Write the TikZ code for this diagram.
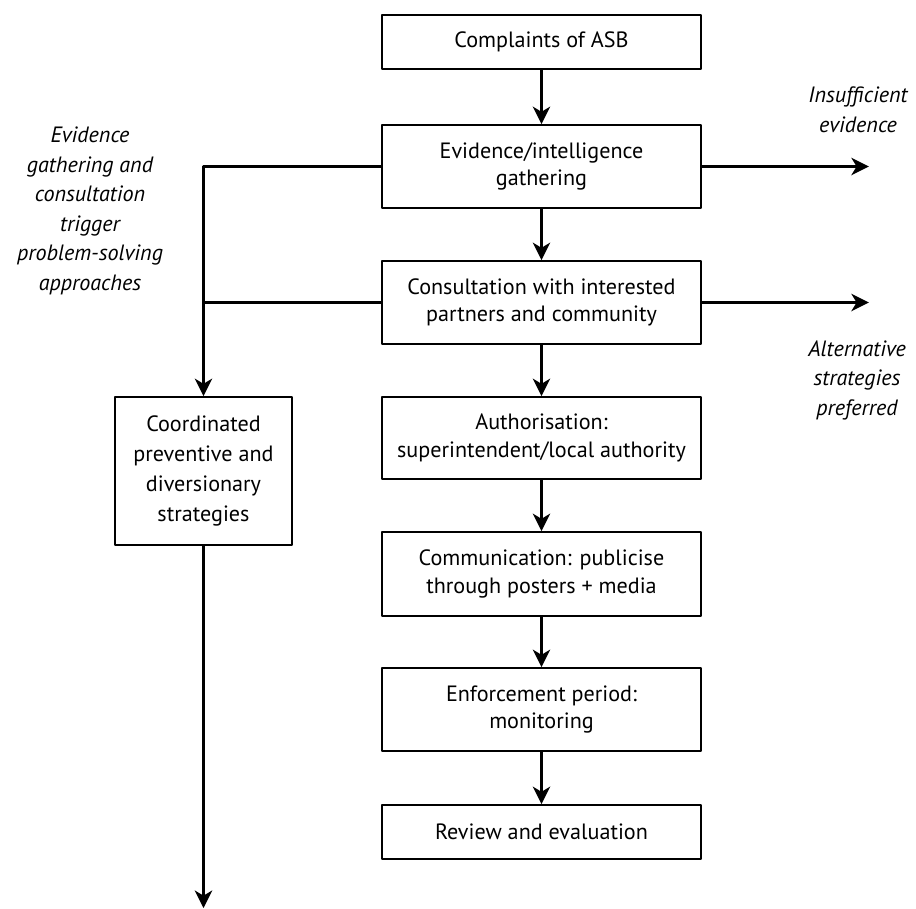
\documentclass[tikz,border=0pt]{standalone}
\usepackage{fontspec}
\setmainfont{PT Sans}
\usetikzlibrary{arrows.meta}
\begin{document}
\begin{tikzpicture}[x=0.2mm, y=-0.2mm, line join=round, line width=1.15pt,
  >={Stealth[length=10pt,width=10pt,inset=3pt]},
  box/.style={draw, line width=1pt, align=center, inner sep=2pt,
    minimum width=6.38cm, font=\fontsize{12.6}{15.8}\selectfont},
  note/.style={align=center, font=\fontsize{12.6}{16.8}\selectfont\itshape}]
\useasboundingbox (0,0) rectangle (916,909);
% main column
\node[box, minimum height=1.08cm] (cmp) at (541.5,42) {Complaints of ASB};
\node[box, minimum height=1.66cm] (evd) at (541.5,166.5) {Evidence/intelligence\\gathering};
\node[box, minimum height=1.66cm] (cns) at (541.5,302.5) {Consultation with interested\\partners and community};
\node[box, minimum height=1.64cm] (ath) at (541.5,438) {Authorisation:\\superintendent/local authority};
\node[box, minimum height=1.68cm] (com) at (541.5,574) {Communication: publicise\\through posters + media};
\node[box, minimum height=1.66cm] (enf) at (541.5,709.5) {Enforcement period:\\monitoring};
\node[box, minimum height=1.08cm] (rev) at (541.5,832) {Review and evaluation};
% side box
\node[box, minimum width=3.54cm, minimum height=2.96cm,
  font=\fontsize{12.6}{16.9}\selectfont] (crd) at (203.5,471)
  {Coordinated\\preventive and\\diversionary\\strategies};
% italic notes
\node[note] (trg) at (90,211) {Evidence\\gathering and\\consultation\\trigger\\problem-solving\\approaches};
\node[note] (ins) at (858,110) {Insufficient\\evidence};
\node[note] (alt) at (857,380) {Alternative\\strategies\\preferred};
\path (evd.east) ++(167,0) coordinate (insE)
      (cns.east) ++(167,0) coordinate (altE)
      (203.5,908) coordinate (crdE);
\foreach \a/\b in {cmp/evd, evd/cns, cns/ath, ath/com, com/enf, enf/rev}
  {\draw[->] (\a.south) -- (\b.north);}
\draw[->] (evd.west) -| (crd.north);
\draw (cns.west) -- (cns.west -| crd.north);
\draw[->] (crd.south) -- (crdE);
\draw[->] (evd.east) -- (insE);
\draw[->] (cns.east) -- (altE);
\end{tikzpicture}
\end{document}
